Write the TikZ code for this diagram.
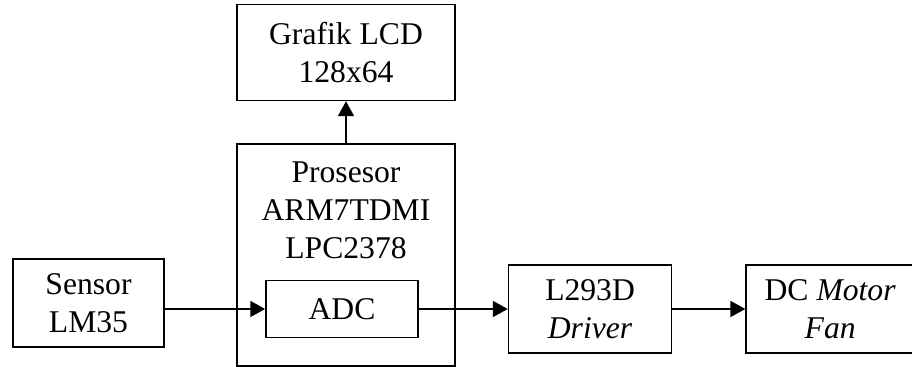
\documentclass[tikz,border=0pt]{standalone}
\usepackage{fontspec}
\setmainfont{Liberation Serif}
\usetikzlibrary{arrows.meta, positioning}

\begin{document}
\begin{tikzpicture}[>={Triangle[length=8.5pt, width=9pt]},
    blok/.style={draw, line width=0.9pt, align=center,
                 font=\fontsize{18}{21.5}\selectfont},
    panah/.style={->, line width=1.2pt}]
  \useasboundingbox (0,0) rectangle (18.24,-7.34);

  \node[blok, minimum width=4.36cm, minimum height=4.44cm] (proc) at (6.92,-5.10) {};
  \node[align=center, font=\fontsize{18}{21.5}\selectfont,
        below=0.25cm of proc.north] (proclbl) {Prosesor\\ARM7TDMI\\LPC2378};
  \node[blok, minimum width=4.36cm, minimum height=1.92cm,
        above=0.84cm of proc] (lcd) {Grafik LCD\\128x64};
  \node[blok, minimum width=3.04cm, minimum height=1.14cm] (adc) at (6.84,-6.18) {ADC};
  \node[blok, minimum width=3.02cm, minimum height=1.76cm] (sensor) at (1.77,-6.06) {Sensor\\LM35};
  \node[blok, minimum width=3.26cm, minimum height=1.76cm,
        right=1.78cm of adc] (driver) {L293D\\\textit{Driver}};
  \node[blok, minimum width=3.36cm, minimum height=1.76cm,
        right=1.46cm of driver] (motor) {DC \textit{Motor}\\\textit{Fan}};

  \draw[panah] (sensor.east |- adc.west) -- (adc.west);
  \draw[panah] (adc.east) -- (driver.west);
  \draw[panah] (driver.east) -- (motor.west);
  \draw[panah] (proc.north) -- (lcd.south);
\end{tikzpicture}
\end{document}
